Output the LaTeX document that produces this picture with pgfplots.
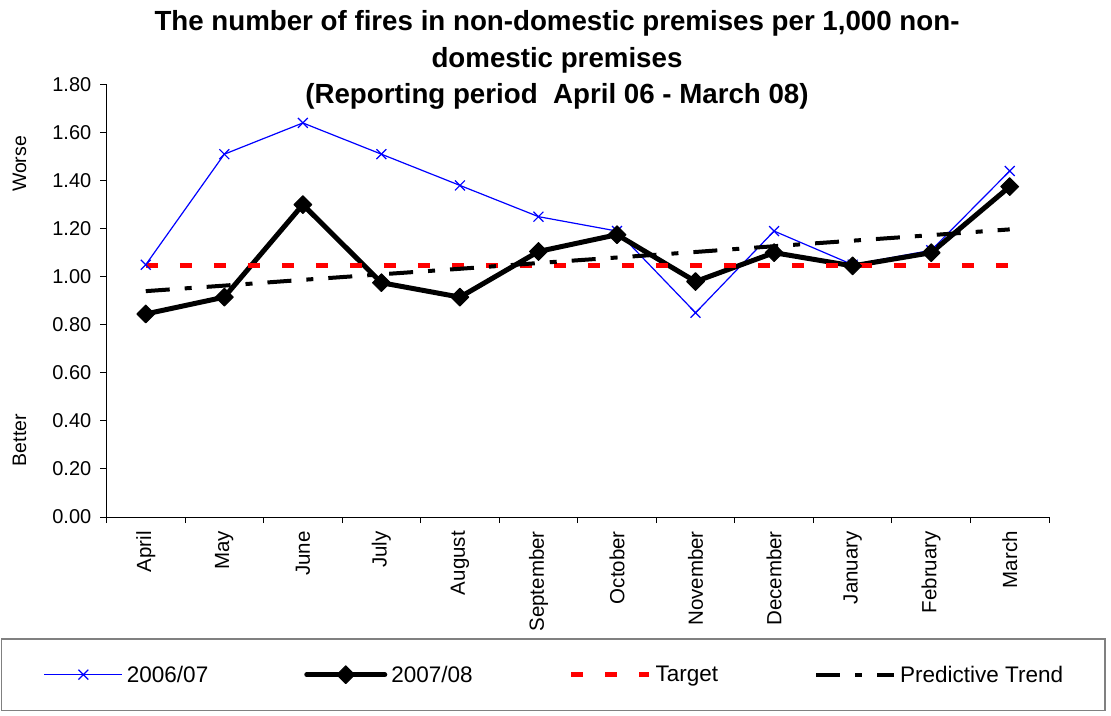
\documentclass[border=0pt]{standalone}
\usepackage{fontspec}
\setmainfont{Liberation Sans}
\usepackage{pgfplots}
\pgfplotsset{compat=1.18}
\definecolor{xlblue}{RGB}{0,0,255}
\definecolor{xlred}{RGB}{255,0,0}
\begin{document}
\begin{tikzpicture}[x=1pt,y=1pt]
\useasboundingbox (0,0) rectangle (1111,715);
\begin{axis}[
  at={(106.5pt,198pt)}, anchor=south west,
  scale only axis, width=942.5pt, height=432.5pt,
  xmin=-0.5, xmax=11.5, ymin=0, ymax=1.8,
  clip=false,
  axis x line=bottom, axis y line=left,
  axis line style={-, line width=1pt, black},
  tick align=outside,
  major tick length=6pt,
  tick style={line width=1pt, black},
  /pgf/number format/assume math mode=true,
  tick label style={font=\fontsize{20}{24}\selectfont},
  ytick={0,0.2,0.4,0.6,0.8,1.0,1.2,1.4,1.6,1.8},
  yticklabel style={/pgf/number format/fixed, /pgf/number format/fixed zerofill, /pgf/number format/precision=2, inner xsep=9pt},
  xtick={-0.5,0.5,1.5,2.5,3.5,4.5,5.5,6.5,7.5,8.5,9.5,10.5,11.5},
  xticklabels={},
  extra x ticks={0,1,2,3,4,5,6,7,8,9,10,11},
  extra x tick labels={April,May,June,July,August,September,October,November,December,January,February,March},
  extra x tick style={major tick length=0pt, tick label style={rotate=90, anchor=east, inner xsep=14pt, font=\fontsize{20.5}{24}\selectfont}},
  legend image code/.code={\draw[mark repeat=2,mark phase=2,#1] plot coordinates {(0pt,0pt) (39pt,0pt) (78pt,0pt)};},
  legend columns=4,
  legend style={at={(-0.11194,-0.27977)}, anchor=north west, draw=gray, line width=1.5pt, fill=white,
    inner xsep=42pt, inner ysep=27pt,
    /tikz/every even column/.append style={column sep=96pt},
    /tikz/every odd column/.append style={column sep=4pt},
    font=\fontsize{22.5}{27}\selectfont, nodes={inner sep=0pt}},
]
\addplot[color=xlblue, line width=1.2pt, mark=x, mark size=7pt, mark options={line width=1.2pt}]
  coordinates {(0,1.05) (1,1.51) (2,1.64) (3,1.51) (4,1.38) (5,1.25) (6,1.19) (7,0.85) (8,1.19) (9,1.05) (10,1.11) (11,1.44)};
\addlegendentry{2006/07}
\addplot[color=black, line width=5pt, line cap=round, line join=round, mark=square*, mark size=6.3pt, mark options={rotate=45, line width=1pt, fill=black}]
  coordinates {(0,0.845) (1,0.915) (2,1.30) (3,0.975) (4,0.915) (5,1.105) (6,1.175) (7,0.98) (8,1.10) (9,1.045) (10,1.10) (11,1.375)};
\addlegendentry{2007/08}
\addplot[color=xlred, line width=5pt, dash pattern=on 12pt off 22pt]
  coordinates {(0,1.045) (1,1.045) (2,1.045) (3,1.045) (4,1.045) (5,1.045) (6,1.045) (7,1.045) (8,1.045) (9,1.045) (10,1.045) (11,1.045)};
\addlegendentry{Target}
\addplot[color=black, line width=4pt, dash pattern=on 24pt off 15pt on 7pt off 15pt]
  coordinates {(0,0.94) (1,0.963) (2,0.987) (3,1.01) (4,1.033) (5,1.057) (6,1.08) (7,1.103) (8,1.127) (9,1.15) (10,1.173) (11,1.197)};
\addlegendentry{Predictive Trend}
\end{axis}
\node[anchor=base, font=\bfseries\fontsize{27.7}{33}\selectfont] at (557,684) {The number of fires in non-domestic premises per 1,000 non-};
\node[anchor=base, font=\bfseries\fontsize{27.7}{33}\selectfont] at (557,647.5) {domestic premises};
\node[anchor=base, font=\bfseries\fontsize{27.7}{33}\selectfont] at (557,611) {(Reporting period\ \ April 06 - March 08)};
\node[rotate=90, font=\fontsize{19.5}{24}\selectfont] at (19.5,551) {Worse};
\node[rotate=90, font=\fontsize{19.5}{24}\selectfont] at (19.5,275) {Better};
\end{tikzpicture}
\end{document}
